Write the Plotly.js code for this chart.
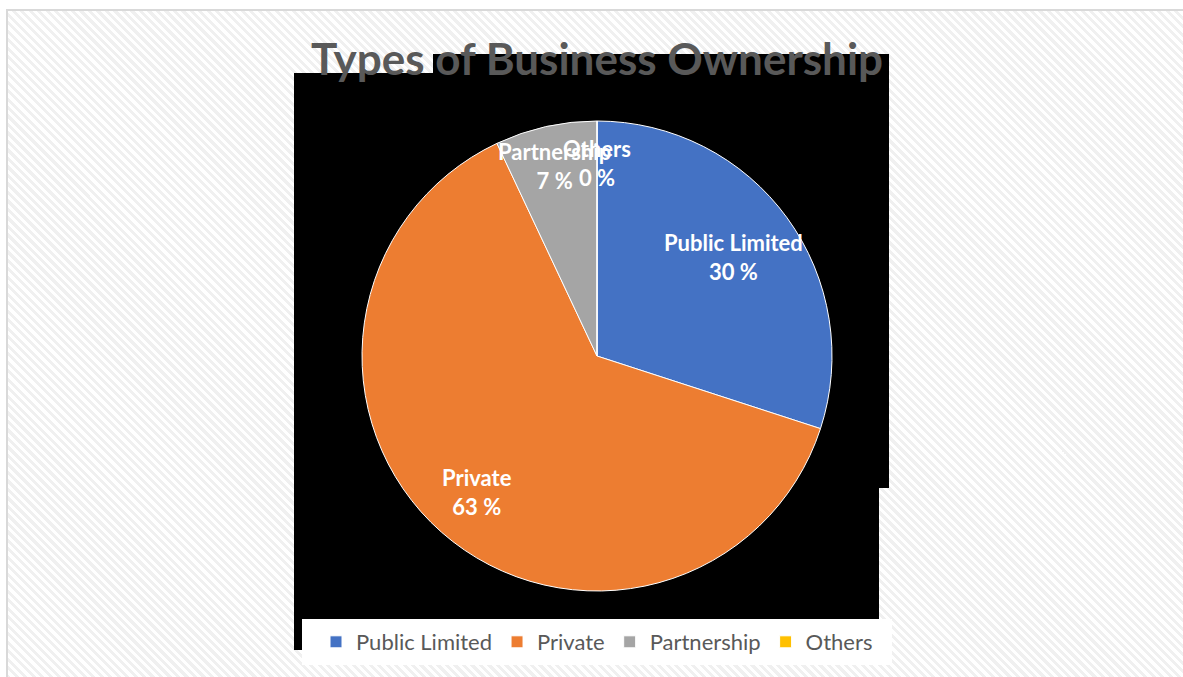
<!DOCTYPE html>
<html>
<head>
<meta charset="utf-8">
<script src="https://cdn.plot.ly/plotly-3.0.1.min.js"></script>
<style>
  html, body { margin: 0; padding: 0; background: #ffffff; width: 1183px; height: 677px; overflow: hidden; }
  #frame {
    position: absolute; left: 6px; top: 9px; width: 1190px; height: 680px;
    border-left: 2px solid #d9d9d9; border-top: 2px solid #d9d9d9;
    background: repeating-linear-gradient(45deg, #ffffff 0px, #ffffff 3px, #f0f0f0 3px, #f0f0f0 6px);
  }
  #chart { position: absolute; left: 0; top: 0; width: 1183px; height: 677px; }
</style>
</head>
<body>
<div id="frame"></div>
<div id="chart"></div>
<script>
// ---- data ----
const categories = ["Public Limited", "Private", "Partnership", "Others"];
const shares = [30, 63, 7, 0];
const percentLabels = ["30 %", "63 %", "7 %", "0 %"];
const sliceColors = ["#4472C4", "#ED7D31", "#A5A5A5", "#FFC000"];
const labelRadius = [0.72, 0.77, 0.83, 0.82];

// ---- geometry ----
const W = 1183, H = 677;
const cx = 597, cy = 356, R = 235;
const domX = [(cx - R) / W, (cx + R) / W];
const domY = [1 - (cy + R) / H, 1 - (cy - R) / H];

const total = shares.reduce((a, b) => a + b, 0);
let cum = 0;
const annotations = [];
categories.forEach((c, i) => {
  const mid = (cum + shares[i] / 2) / total * 2 * Math.PI;
  cum += shares[i];
  const r = labelRadius[i] * R;
  const px = cx + r * Math.sin(mid);
  const py = cy - r * Math.cos(mid);
  annotations.push({
    x: px / W, y: 1 - py / H, xref: "paper", yref: "paper",
    text: "<b>" + c + "<br>" + percentLabels[i] + "</b>",
    showarrow: false, xanchor: "center", yanchor: "middle",
    font: { family: "Lato, sans-serif", size: 22, color: "#ffffff" }
  });
});

const px2x = v => v / W, px2y = v => 1 - v / H;
const blackPath = [[294,73],[433,73],[433,54],[889,54],[889,488],[879,488],[879,619],[302,619],[302,650],[294,650]]
  .map((p, i) => (i === 0 ? "M" : "L") + px2x(p[0]) + "," + px2y(p[1])).join(" ") + " Z";

const shapes = [
  { type: "path", xref: "paper", yref: "paper", path: blackPath, fillcolor: "#000000", line: { width: 0 }, layer: "below" },
  { type: "rect", xref: "paper", yref: "paper", x0: px2x(302), x1: px2x(892), y0: px2y(665), y1: px2y(619),
    fillcolor: "#ffffff", line: { width: 0 }, layer: "below" }
];

const trace = {
  type: "pie",
  labels: categories,
  values: shares,
  sort: false,
  direction: "clockwise",
  rotation: 0,
  textinfo: "none",
  hoverinfo: "label+percent",
  marker: { colors: sliceColors, line: { color: "#ffffff", width: 1 } },
  domain: { x: domX, y: domY },
  showlegend: true
};

const layout = {
  width: W, height: H,
  margin: { l: 0, r: 0, t: 0, b: 0 },
  paper_bgcolor: "rgba(0,0,0,0)",
  plot_bgcolor: "rgba(0,0,0,0)",
  title: {
    text: "<b>Types of Business Ownership</b>",
    x: 597 / W, xanchor: "center",
    y: 1 - 60 / H, yanchor: "middle",
    xref: "paper", yref: "paper",
    font: { family: "Lato, sans-serif", size: 44, color: "#595959" }
  },
  legend: {
    orientation: "h",
    x: 597 / W, xanchor: "center",
    y: 1 - 642 / H, yanchor: "middle",
    bgcolor: "rgba(0,0,0,0)",
    font: { family: "Lato, sans-serif", size: 22, color: "#595959" },
    itemclick: false
  },
  shapes: shapes,
  annotations: annotations
};

Plotly.newPlot("chart", [trace], layout, { displayModeBar: false, staticPlot: true });
</script>
</body>
</html>
